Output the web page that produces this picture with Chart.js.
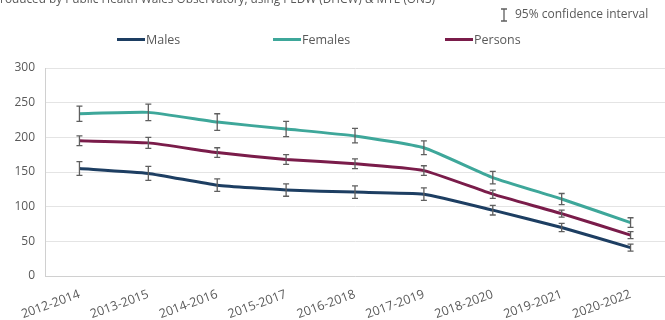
<!DOCTYPE html>
<html>
<head>
<meta charset="utf-8">
<script src="https://cdn.jsdelivr.net/npm/chart.js@4.4.1/dist/chart.umd.min.js"></script>
<style>
  html, body { margin: 0; padding: 0; background: #ffffff; }
  #wrap { width: 665px; height: 320px; position: relative; }
</style>
</head>
<body>
<div id="wrap"><canvas id="chart" width="665" height="320"></canvas></div>
<script>
// Three-year periods
const periods = ['2012-2014', '2013-2015', '2014-2016', '2015-2017', '2016-2018',
                 '2017-2019', '2018-2020', '2019-2021', '2020-2022'];

// Rates per period
const males   = [155, 148, 131, 124, 121, 118, 95, 70, 41];
const females = [234, 236, 222, 212, 202, 185, 142, 111, 77];
const persons = [195, 192, 178, 168, 162, 152, 118, 90, 59];

// 95% confidence interval bounds
const malesLower   = [145, 138, 122, 115, 112, 109, 88, 64, 36];
const malesUpper   = [165, 158, 140, 133, 130, 127, 102, 76, 46];
const femalesLower = [223, 224, 210, 201, 192, 175, 133, 103, 70];
const femalesUpper = [245, 248, 234, 223, 213, 195, 151, 119, 84];
const personsLower = [188, 184, 171, 161, 155, 145, 112, 85, 54];
const personsUpper = [202, 200, 185, 175, 169, 159, 124, 95, 64];

// Y-axis ticks
const yTicks = [0, 50, 100, 150, 200, 250, 300];

const SOURCE = 'Produced by Public Health Wales Observatory, using PEDW (DHCW) & MYE (ONS)';

const FONT = "'Open Sans', 'DejaVu Sans', sans-serif";
const TEXT = '#595959';

const COLORS = { males: '#1d3e62', females: '#3ea79a', persons: '#7a1c4a' };

// Draws the whisker for each point between its lower and upper bound
const ciBars = {
  id: 'ciBars',
  afterDatasetsDraw(chart) {
    const { ctx, scales: { x, y } } = chart;
    ctx.save();
    ctx.strokeStyle = '#5f5f5f';
    ctx.lineWidth = 1.3;
    chart.data.datasets.forEach(ds => {
      ds.lower.forEach((lo, i) => {
        const px = x.getPixelForValue(i);
        const yl = y.getPixelForValue(lo);
        const yu = y.getPixelForValue(ds.upper[i]);
        ctx.beginPath();
        ctx.moveTo(px, yl); ctx.lineTo(px, yu);
        ctx.moveTo(px - 3, yl); ctx.lineTo(px + 3, yl);
        ctx.moveTo(px - 3, yu); ctx.lineTo(px + 3, yu);
        ctx.stroke();
      });
    });
    ctx.restore();
  }
};

// Source line, CI key and series key above the plot
const header = {
  id: 'header',
  afterDraw(chart) {
    const { ctx } = chart;
    ctx.save();
    ctx.fillStyle = TEXT;
    ctx.textBaseline = 'alphabetic';
    ctx.textAlign = 'left';
    // source line, sized to run from the left edge to x = 435
    ctx.font = '11px ' + FONT;
    const srcSize = 11 * 442 / ctx.measureText(SOURCE).width;
    ctx.font = srcSize.toFixed(2) + 'px ' + FONT;
    ctx.fillText(SOURCE, -7, 3);

    // CI key
    ctx.strokeStyle = '#5f5f5f';
    ctx.lineWidth = 1.3;
    ctx.beginPath();
    ctx.moveTo(504, 9); ctx.lineTo(504, 21);
    ctx.moveTo(501, 9); ctx.lineTo(507, 9);
    ctx.moveTo(501, 21); ctx.lineTo(507, 21);
    ctx.stroke();
    ctx.fillStyle = TEXT;
    ctx.font = '12px ' + FONT;
    ctx.textBaseline = 'middle';
    ctx.fillText('95% confidence interval', 515, 15);

    // Series key
    const xs = [117, 273, 445];
    ctx.font = '12.5px ' + FONT;
    chart.data.datasets.forEach((ds, i) => {
      ctx.strokeStyle = ds.borderColor;
      ctx.lineWidth = 3;
      ctx.beginPath();
      ctx.moveTo(xs[i], 39.5); ctx.lineTo(xs[i] + 28, 39.5);
      ctx.stroke();
      ctx.fillStyle = TEXT;
      ctx.fillText(ds.label, xs[i] + 29, 40);
    });
    ctx.restore();
  }
};

new Chart(document.getElementById('chart'), {
  type: 'line',
  data: {
    labels: periods,
    datasets: [
      { label: 'Males', data: males, lower: malesLower, upper: malesUpper,
        borderColor: COLORS.males },
      { label: 'Females', data: females, lower: femalesLower, upper: femalesUpper,
        borderColor: COLORS.females },
      { label: 'Persons', data: persons, lower: personsLower, upper: personsUpper,
        borderColor: COLORS.persons }
    ].map(d => Object.assign(d, {
      borderWidth: 3, pointRadius: 0, pointHoverRadius: 0, tension: 0.15, fill: false
    }))
  },
  options: {
    responsive: false,
    animation: false,
    layout: { padding: { top: 68, left: 0, right: 0, bottom: 0 } },
    plugins: { legend: { display: false }, tooltip: { enabled: false } },
    scales: {
      x: {
        offset: true,
        afterFit(scale) { scale.height = 44; },
        grid: { display: false, drawTicks: false },
        border: { display: true, color: '#d0d0d0', width: 1 },
        ticks: {
          color: TEXT, font: { family: FONT, size: 12.5 },
          minRotation: 20, maxRotation: 20, autoSkip: false, padding: 11, labelOffset: 0
        }
      },
      y: {
        min: 0, max: 300,
        afterBuildTicks(scale) { scale.ticks = yTicks.map(v => ({ value: v })); },
        afterFit(scale) { scale.width = 45; },
        grid: { color: '#e4e4e4', lineWidth: 1, drawTicks: false },
        border: { display: true, color: '#d0d0d0', width: 1 },
        ticks: { color: TEXT, font: { family: FONT, size: 12 }, padding: 10 }
      }
    }
  },
  plugins: [ciBars, header]
});
</script>
</body>
</html>
